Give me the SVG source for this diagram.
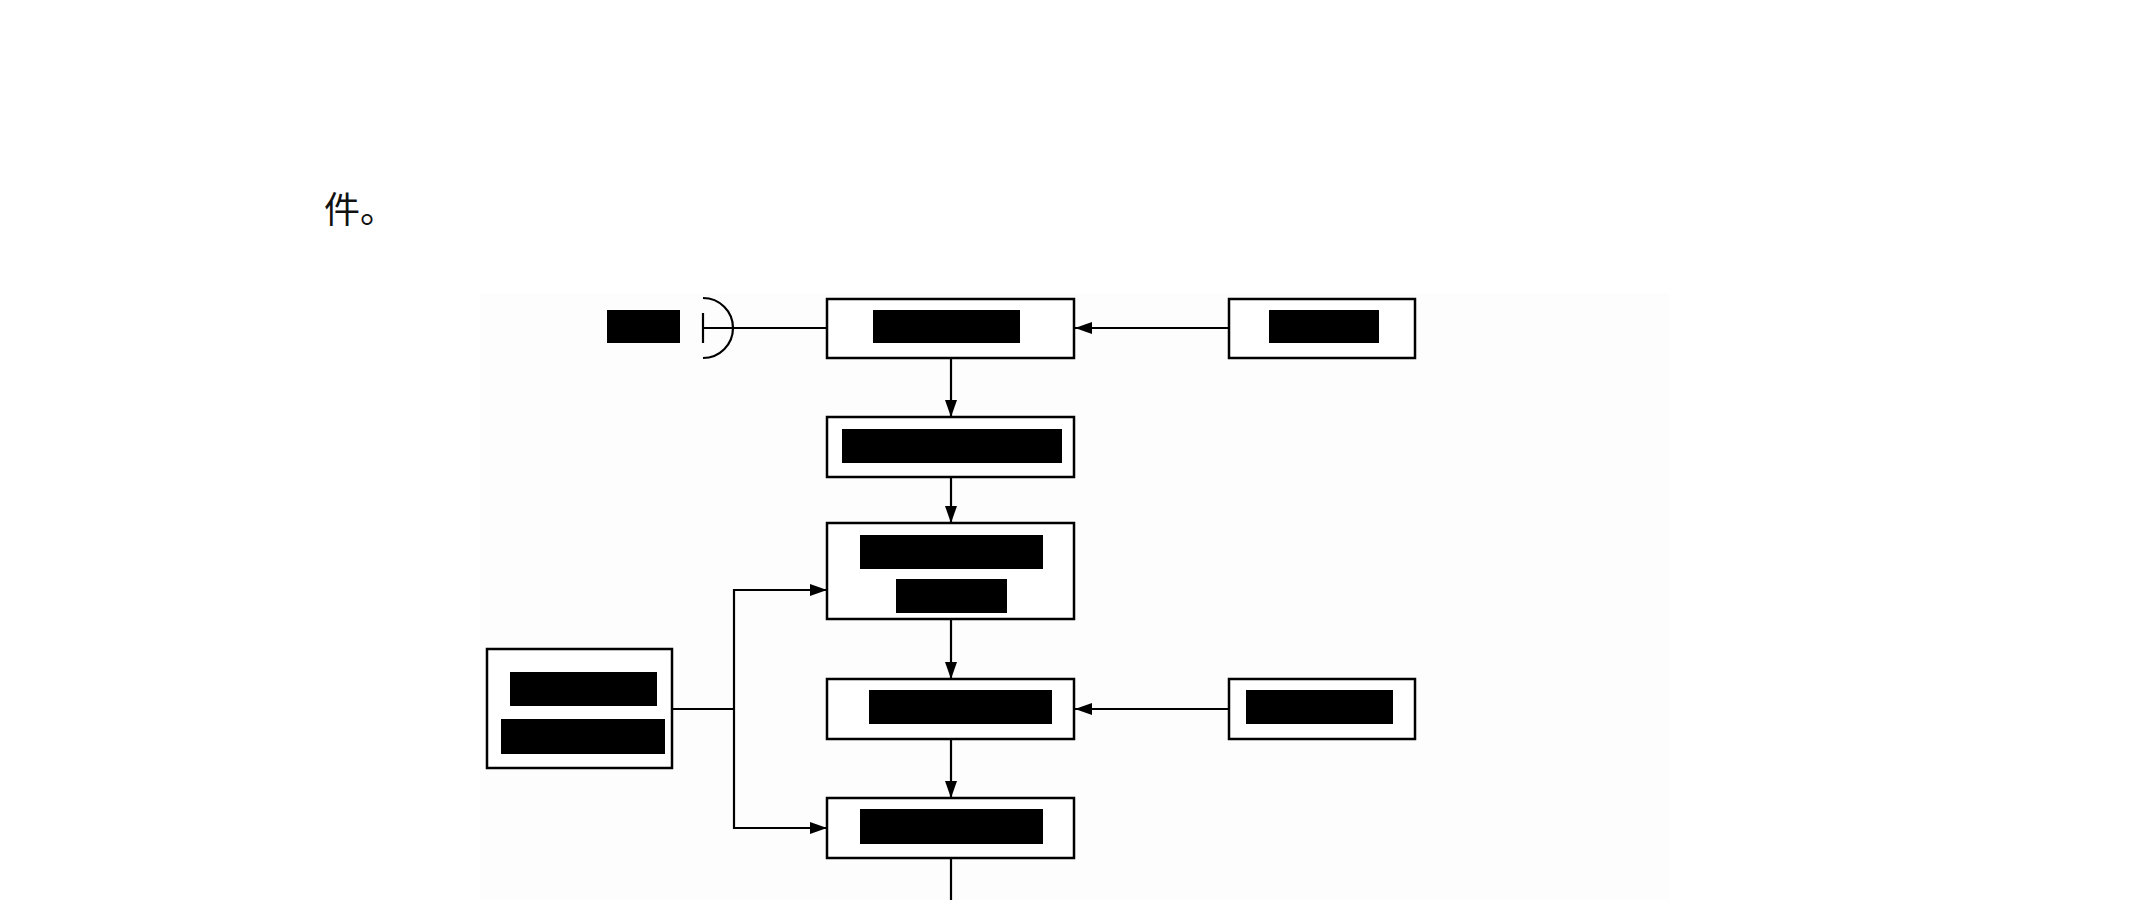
<svg xmlns="http://www.w3.org/2000/svg" width="2149" height="900" viewBox="0 0 2149 900">
<style>
.box{fill:#fff;stroke:#000;stroke-width:2.5}
.blk{fill:#000}
.ln{fill:none;stroke:#000;stroke-width:2.2}
.arr{fill:none;stroke:#000;stroke-width:2.2;marker-end:url(#ah)}
.txt{font-family:"Noto Sans CJK SC","Noto Sans CJK JP",sans-serif;font-size:36px;fill:#111}
</style>
<defs>
<marker id="ah" markerUnits="userSpaceOnUse" markerWidth="18" markerHeight="12" refX="17" refY="6" orient="auto">
<path d="M0,0 L17,6 L0,12 z" fill="#000"/>
</marker>
</defs>
<rect width="2149" height="900" fill="#fff"/>
<rect x="480" y="293" width="1190" height="607" fill="#fdfdfd"/>
<text class="txt" x="324" y="223">件。</text>
<g id="connectors">
<line class="ln" x1="703" y1="328" x2="827" y2="328"/>
<line class="ln" x1="703" y1="313" x2="703" y2="343"/>
<path class="ln" d="M703,298 A30,30 0 0 1 703,358"/>
<line class="arr" x1="1229" y1="328" x2="1075" y2="328"/>
<line class="arr" x1="951" y1="358" x2="951" y2="417"/>
<line class="arr" x1="951" y1="477" x2="951" y2="523"/>
<line class="arr" x1="951" y1="619" x2="951" y2="679"/>
<line class="arr" x1="1229" y1="709" x2="1075" y2="709"/>
<line class="arr" x1="951" y1="739" x2="951" y2="798"/>
<line class="ln" x1="951" y1="858" x2="951" y2="900"/>
<line class="ln" x1="672" y1="709" x2="734" y2="709"/>
<line class="ln" x1="734" y1="589" x2="734" y2="829"/>
<polyline class="arr" points="733,590 827,590"/>
<polyline class="arr" points="733,828 827,828"/>
</g>
<g id="node-left-top">
<rect class="blk" x="607" y="310" width="73" height="33"/>
</g>
<g id="node-1">
<rect class="box" x="827" y="299" width="247" height="59"/>
<rect class="blk" x="873" y="310" width="147" height="33"/>
</g>
<g id="node-right-1">
<rect class="box" x="1229" y="299" width="186" height="59"/>
<rect class="blk" x="1269" y="310" width="110" height="33"/>
</g>
<g id="node-2">
<rect class="box" x="827" y="417" width="247" height="60"/>
<rect class="blk" x="842" y="429" width="220" height="34"/>
</g>
<g id="node-3">
<rect class="box" x="827" y="523" width="247" height="96"/>
<rect class="blk" x="860" y="535" width="183" height="34"/>
<rect class="blk" x="896" y="579" width="111" height="34"/>
</g>
<g id="node-left">
<rect class="box" x="487" y="649" width="185" height="119"/>
<rect class="blk" x="510" y="672" width="147" height="34"/>
<rect class="blk" x="501" y="719" width="164" height="35"/>
</g>
<g id="node-4">
<rect class="box" x="827" y="679" width="247" height="60"/>
<rect class="blk" x="869" y="690" width="183" height="34"/>
</g>
<g id="node-right-2">
<rect class="box" x="1229" y="679" width="186" height="60"/>
<rect class="blk" x="1246" y="690" width="147" height="34"/>
</g>
<g id="node-5">
<rect class="box" x="827" y="798" width="247" height="60"/>
<rect class="blk" x="860" y="809" width="183" height="35"/>
</g>
</svg>
